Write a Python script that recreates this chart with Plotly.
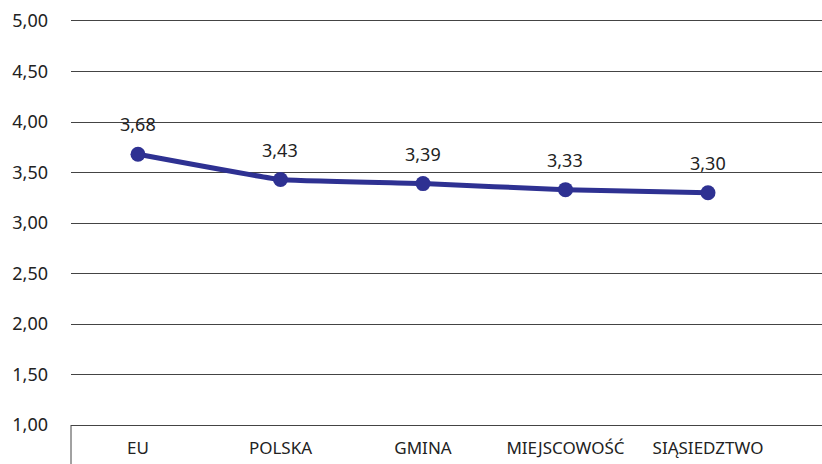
import plotly.graph_objects as go

categories = ["EU", "POLSKA", "GMINA", "MIEJSCOWOŚĆ", "SIĄSIEDZTWO"]
values = [3.68, 3.43, 3.39, 3.33, 3.30]
labels = ["3,68", "3,43", "3,39", "3,33", "3,30"]

fig = go.Figure()
fig.add_trace(go.Scatter(
    x=categories, y=values, mode="lines+markers",
    line=dict(color="#2E3192", width=5, shape="spline", smoothing=0.3),
    marker=dict(color="#2E3192", size=15),
    cliponaxis=False, showlegend=False, hoverinfo="skip",
))

for c, v, t in zip(categories, values, labels):
    fig.add_annotation(x=c, y=v, text=t, showarrow=False, yanchor="middle",
                       yshift=30, font=dict(size=18, color="#222222"))

fig.update_layout(
    width=822, height=464,
    margin=dict(l=71, r=0, t=21, b=39),
    paper_bgcolor="white", plot_bgcolor="white",
    font=dict(family="Noto Sans", size=18, color="#222222"),
    separators=", ",
    xaxis=dict(
        range=[-0.47, 4.8], showgrid=False, zeroline=False,
        showline=True, mirror=True, linecolor="#444444", linewidth=1,
        ticks="", ticklabelstandoff=8, tickfont=dict(size=17), automargin=False,
    ),
    yaxis=dict(
        range=[1, 5], dtick=0.5, tick0=1, tickformat=".2f", showgrid=True,
        gridcolor="#444444", gridwidth=1, zeroline=False, showline=False,
        ticks="", ticklabelstandoff=22, tickfont=dict(size=18), automargin=False,
    ),
    shapes=[dict(type="line", xref="paper", yref="paper", x0=0, x1=0,
                 y0=0, y1=-39/404, line=dict(color="#444444", width=1))],
)

fig.write_html("out.html", config={"displayModeBar": False},
               post_script="document.body.style.margin='0';document.body.style.overflow='hidden';")
